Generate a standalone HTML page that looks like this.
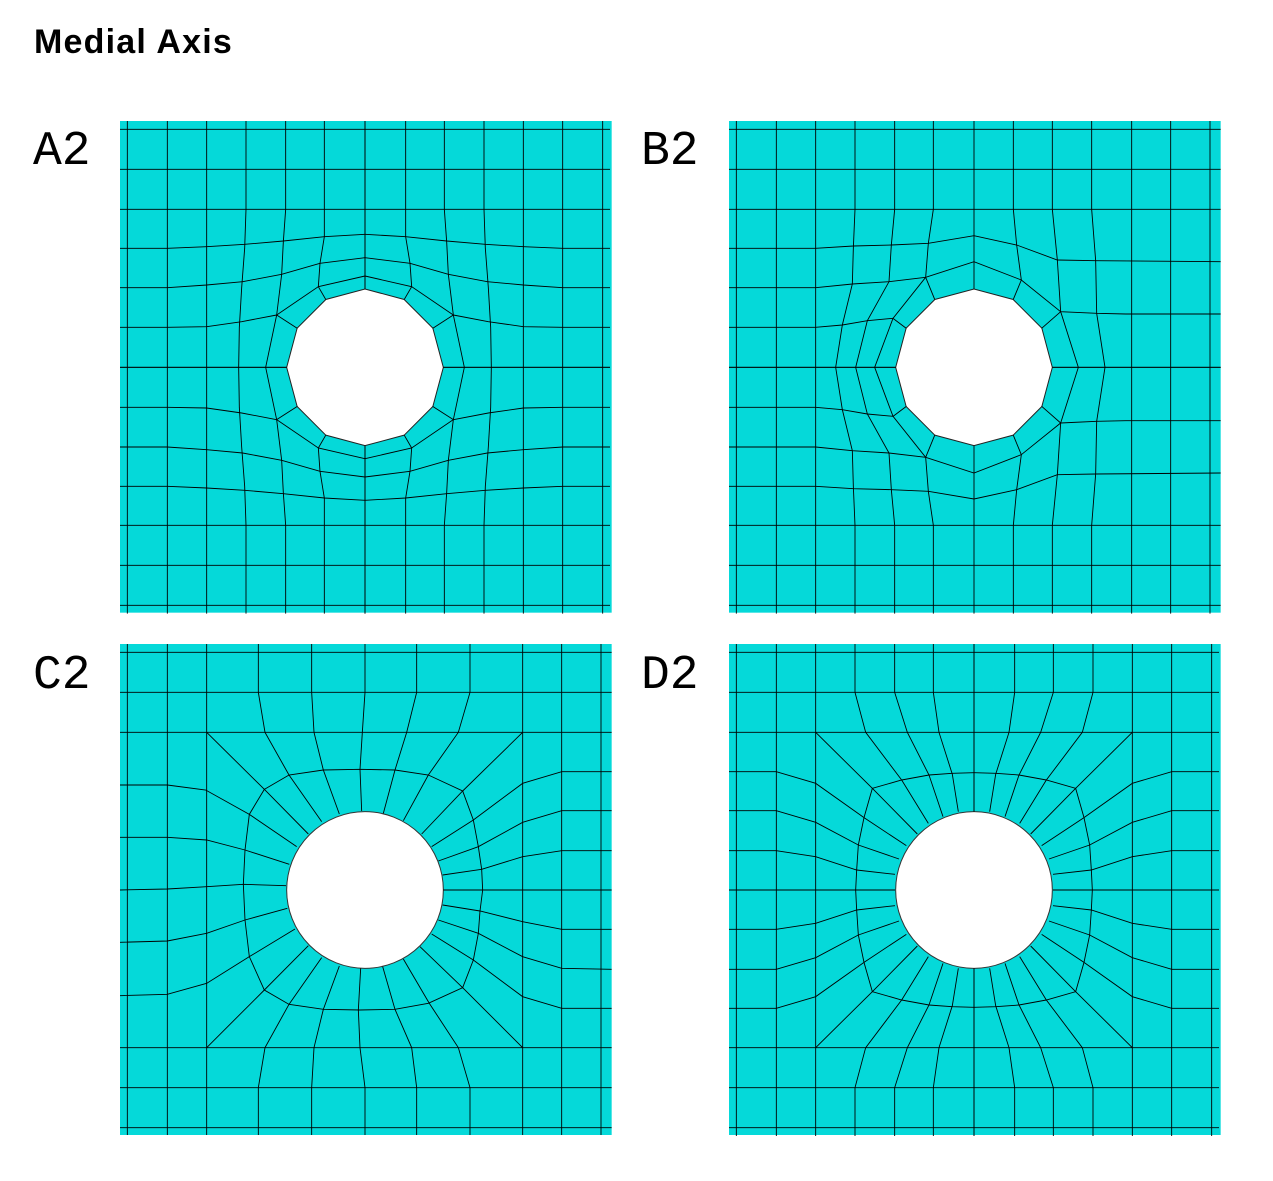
<!DOCTYPE html>
<html><head><meta charset="utf-8">
<style>
html,body{margin:0;padding:0;background:#fff;}
body{width:1273px;height:1181px;position:relative;overflow:hidden;}
#title{position:absolute;left:34px;top:23px;font:bold 34px "Liberation Sans",sans-serif;letter-spacing:1.2px;color:#000;}
.lbl{position:absolute;font:48px "Liberation Mono",monospace;color:#000;}
svg{position:absolute;left:0;top:0;}
</style></head>
<body>
<div id="title">Medial Axis</div>
<div class="lbl" style="left:33px;top:125px">A2</div>
<div class="lbl" style="left:641px;top:125px">B2</div>
<div class="lbl" style="left:33px;top:649px">C2</div>
<div class="lbl" style="left:641px;top:649px">D2</div>
<svg id="svg" width="1273" height="1181"></svg>
<script>
const quadA = [
 [[52,33],[52,772]],[[172,33],[172,772]],[[290,33],[290,772]],
 [[408,33],[408,298],[404,415],[395,533],[388,652],[386,772]],
 [[527,33],[527,298],[520,395],[515,493],[500,615]],
 [[643,33],[643,298],[643,380],[630,460],[625,530]],
 [[765,33],[765,537]],
 [[30,58],[765,58]],[[30,178],[765,178]],[[30,298],[765,298]],
 [[30,415],[172,415],[290,410],[404,403],[520,393],[643,380],[765,373]],
 [[30,533],[172,533],[290,525],[398,515],[515,493],[630,460],[765,443]],
 [[30,652],[172,652],[290,650],[395,635],[500,615]],
 [[30,772],[530,772]],
 [[467,772],[500,615],[625,530],[765,498]],
 [[562,655],[500,615]],[[647,568],[625,530]]
];
const halfB = [
 [[52,33],[52,772]],[[172,33],[172,772]],[[290,33],[290,772]],
 [[1238,33],[1238,772]],[[1355,33],[1355,772]],[[1473,33],[1473,772]],
 [[408,33],[408,298],[403,415],[400,522],[370,645],[350,772]],
 [[527,33],[527,298],[517,405],[510,515],[445,632],[410,772]],
 [[643,33],[643,298],[628,400],[620,502]],
 [[765,33],[765,537]],
 [[883,33],[883,298],[893,405],[907,510]],
 [[1000,33],[1000,298],[1015,450],[1025,605],[1078,772]],
 [[1118,33],[1118,298],[1130,452],[1133,610],[1158,772]],
 [[30,58],[1505,58]],[[30,178],[1505,178]],[[30,298],[1505,298]],
 [[30,415],[290,415],[403,408],[517,405],[628,400],[765,377],[893,405],[1015,450],[1130,452],[1505,455]],
 [[30,533],[290,533],[400,522],[510,515],[620,502],[765,455],[907,510],[1025,605],[1133,610],[1220,612],[1505,612]],
 [[30,652],[290,652],[370,645],[445,632],[522,625]],
 [[30,772],[530,772]],[[1000,772],[1505,772]],
 [[467,772],[522,625],[620,502]],
 [[562,655],[522,625]],[[647,568],[620,502]],[[883,568],[907,510]],[[968,655],[1025,605]]
];
const linesC = [
 [[52,27],[52,1500]],[[172,27],[172,1500]],[[290,27],[290,1500]],
 [[1238,27],[1238,1500]],[[1355,27],[1355,1500]],[[1473,27],[1473,1500]],
 [[30,52],[1505,52]],[[30,172],[1505,172]],[[30,292],[1505,292]],
 [[30,1238],[1505,1238]],[[30,1358],[1505,1358]],[[30,1478],[1505,1478]],
 [[445,27],[445,172],[465,292],[537,420],[635,560]],
 [[605,27],[605,172],[612,292],[640,405],[688,537]],
 [[765,27],[765,172],[757,292],[750,403],[755,528]],
 [[920,27],[920,172],[890,292],[855,405],[820,535]],
 [[1080,27],[1080,172],[1045,292],[955,420],[880,557]],
 [[445,1500],[445,1358],[465,1238],[537,1108],[635,968]],
 [[605,1500],[605,1358],[612,1238],[640,1123],[688,993]],
 [[765,1500],[765,1358],[750,1238],[745,1125],[752,1000]],
 [[920,1500],[920,1358],[905,1238],[855,1123],[818,995]],
 [[1080,1500],[1080,1358],[1045,1238],[958,1105],[880,972]],
 [[290,292],[463,463],[595,597]],[[1238,292],[1058,468],[935,597]],
 [[290,1238],[463,1065],[595,932]],[[1238,1238],[1058,1058],[930,935]],
 [[30,450],[172,450],[287,465],[418,538],[560,635]],
 [[30,607],[172,607],[290,615],[405,645],[538,688]],
 [[30,765],[172,762],[290,755],[400,748],[528,752]],
 [[30,922],[172,918],[290,895],[405,855],[532,820]],
 [[30,1082],[172,1078],[290,1045],[418,965],[555,882]],
 [[1505,410],[1355,410],[1238,445],[1090,555],[965,635]],
 [[1505,527],[1355,527],[1238,562],[1105,635],[985,678]],
 [[1505,647],[1355,647],[1238,665],[1115,703],[998,720]],
 [[1505,765],[1000,765]],
 [[1505,883],[1355,883],[1238,860],[1110,828],[998,810]],
 [[1505,1003],[1355,1000],[1238,965],[1105,895],[985,855]],
 [[1505,1120],[1355,1120],[1238,1085],[1090,975],[965,897]],
 [[463,463],[537,420],[640,405],[750,403],[855,405],[955,420],[1058,468],[1090,555],[1105,635],[1115,703],[1118,765],[1110,828],[1105,895],[1090,975],[1058,1058],[955,1105],[855,1123],[750,1125],[640,1123],[537,1108],[463,1065],[418,965],[405,855],[400,748],[405,645],[418,538],[463,463]]
];
const quadD = [
 [[52,27],[52,765]],[[172,27],[172,765]],[[290,27],[290,765]],
 [[30,52],[765,52]],[[30,172],[765,172]],[[30,292],[765,292]],
 [[765,27],[765,530]],
 [[643,27],[643,172],[660,292],[700,418],[718,530]],
 [[527,27],[527,172],[565,292],[630,420],[672,545]],
 [[408,27],[408,172],[440,292],[548,435],[628,565]],
 [[290,292],[460,460],[595,597]],
 [[30,410],[172,410],[290,445],[435,548],[562,632]],
 [[30,527],[172,527],[290,562],[418,630],[540,672]],
 [[30,647],[172,647],[290,665],[413,705],[528,718]],
 [[30,765],[528,765]],
 [[410,765],[413,705],[418,630],[435,548],[460,460],[548,435],[630,420],[700,415],[765,413]]
];
const NS='http://www.w3.org/2000/svg';
const svg=document.getElementById('svg');
function mk(tag,attrs){const e=document.createElementNS(NS,tag);for(const k in attrs)e.setAttribute(k,attrs[k]);return e;}
function panel(name,ox,oy,rect,cx,cy,hole,lines){
  const g=mk('g',{transform:`translate(${ox},${oy}) scale(${1/3})`});
  
  
  const r=mk('rect',{x:rect[0],y:rect[1],width:rect[2]-rect[0],height:rect[3]-rect[1],fill:'#05d9d9'});
  
  
  g.appendChild(r);
  let h;
  if(hole==='circle'){h=mk('circle',{cx:cx,cy:cy,r:235,fill:'#fff',stroke:'#333','stroke-width':1,'vector-effect':'non-scaling-stroke'});}
  else{let pts=[];for(let i=0;i<12;i++){const a=i*Math.PI/6;pts.push((cx+235*Math.cos(a)).toFixed(1)+','+(cy-235*Math.sin(a)).toFixed(1));}
    h=mk('polygon',{points:pts.join(' '),fill:'#fff',stroke:'#222','stroke-width':1,'vector-effect':'non-scaling-stroke'});}
  
  
  g.appendChild(h);
  lines.forEach(l=>{
    const p=mk('polyline',{points:l.map(q=>q[0]+','+q[1]).join(' '),fill:'none',stroke:'#000','stroke-width':0.9,'vector-effect':'non-scaling-stroke'});
    
    
    g.appendChild(p);
  });
  svg.appendChild(g);
}
function mirror(lines,cx,cy,mx,my){
  const out=[];
  lines.forEach(l=>{
    out.push(l);
    if(mx)out.push(l.map(q=>[2*cx-q[0],q[1]]));
    if(my)out.push(l.map(q=>[q[0],2*cy-q[1]]));
    if(mx&&my)out.push(l.map(q=>[2*cx-q[0],2*cy-q[1]]));
  });
  return out;
}
panel('panel-a2',110,110,[30,33,1505,1508],765,772,'poly',mirror(quadA,765,772,true,true));
panel('panel-b2',719,110,[30,33,1505,1508],765,772,'poly',mirror(halfB,765,772,false,true));
panel('panel-c2',110,635,[30,27,1505,1500],765,765,'circle',linesC);
panel('panel-d2',719,635,[30,27,1505,1500],765,765,'circle',mirror(quadD,765,765,true,true));
</script>
</body></html>
